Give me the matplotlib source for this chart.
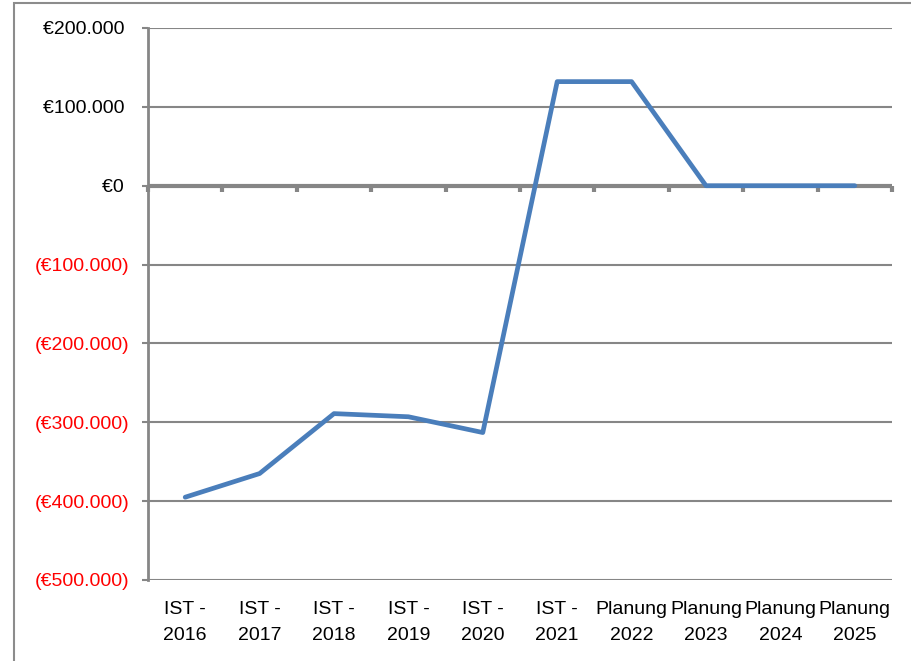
import matplotlib.pyplot as plt
from matplotlib.patches import Rectangle
from matplotlib.ticker import FuncFormatter

# data
kategorien = ["IST -\n2016", "IST -\n2017", "IST -\n2018", "IST -\n2019", "IST -\n2020",
              "IST -\n2021", "Planung\n2022", "Planung\n2023", "Planung\n2024", "Planung\n2025"]
werte = [-395000, -365000, -289000, -293000, -313000, 132000, 132000, 0, 0, 0]
y_ticks = [200000, 100000, 0, -100000, -200000, -300000, -400000, -500000]

grau = "#868686"
blau = "#4a7ebb"

plt.rcParams['font.family'] = ['Liberation Sans', 'DejaVu Sans']

fig = plt.figure(figsize=(9.12, 6.61), dpi=100)
ax = fig.add_axes([148/912, 1 - 580/661, (892-148)/912, (580-28)/661])

# rahmen um das diagramm
fig.patches.append(Rectangle((14/912, -0.1), 1.2, 1 - 3/661 + 0.1, transform=fig.transFigure,
                             fill=False, edgecolor="#8c8c8c", linewidth=1.5))

x = list(range(len(kategorien)))
ax.plot(x, werte, color=blau, linewidth=3.4, solid_capstyle="round", solid_joinstyle="round", zorder=4)

ax.set_xlim(-0.5, len(kategorien) - 0.5)
ax.set_ylim(-500000, 200000)
ax.set_yticks(y_ticks)

def euro(v, pos):
    s = "{:,.0f}".format(abs(v)).replace(",", ".")
    if v < 0:
        return "(€" + s + ")"
    return "€" + s + " "

ax.yaxis.set_major_formatter(FuncFormatter(euro))
for lbl, v in zip(ax.get_yticklabels(), y_ticks):
    if v < 0:
        lbl.set_color("red")

ax.grid(axis="y", color=grau, linewidth=1.5)
ax.set_axisbelow(True)
ax.axhline(0, color=grau, linewidth=3, zorder=3)

# tick marks unter der null-linie
grenzen = [k - 0.5 for k in range(len(kategorien) + 1)]
ax.plot(grenzen, [0] * len(grenzen), linestyle="none", marker=3, markersize=4,
        markeredgewidth=3, color=grau, zorder=3, clip_on=False)

ax.set_xticks(x)
ax.set_xticklabels(kategorien, linespacing=1.7)
ax.tick_params(axis="x", length=0, pad=15, labelsize=14)
ax.tick_params(axis="y", length=4.3, width=1.5, color=grau, pad=9, labelsize=14)

for s in ["top", "right", "bottom"]:
    ax.spines[s].set_visible(False)
ax.spines["left"].set_color(grau)
ax.spines["left"].set_linewidth(2)

fig.savefig("out.png", dpi=100)
